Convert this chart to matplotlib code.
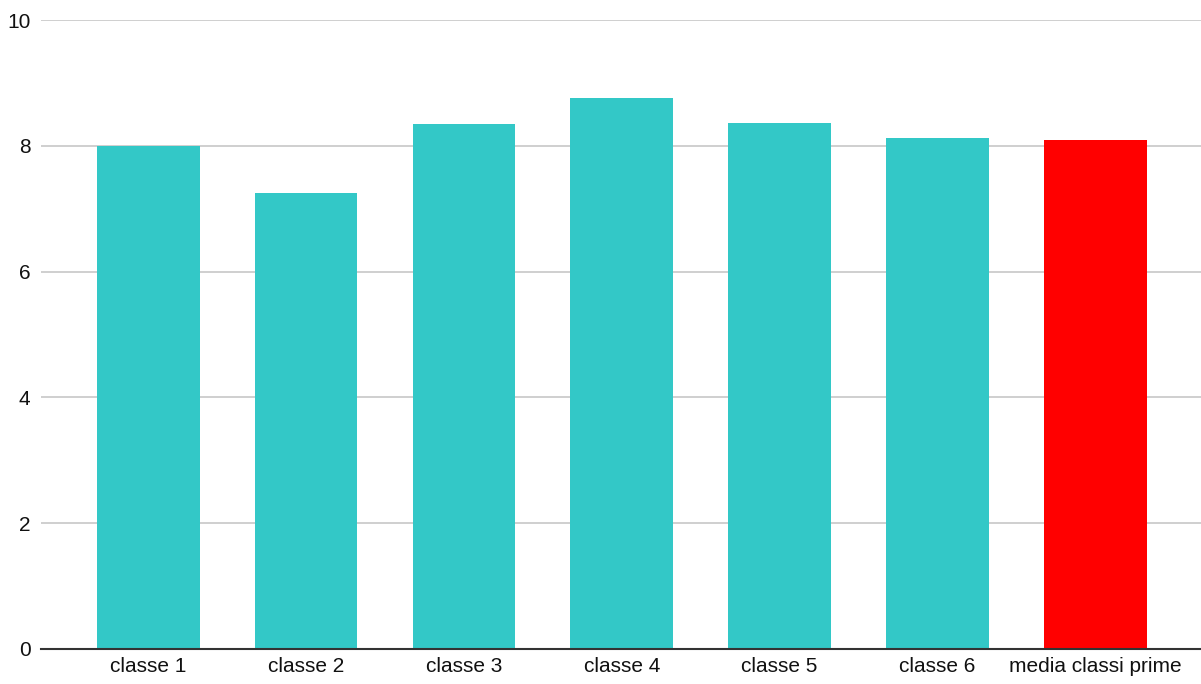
import matplotlib
matplotlib.use("Agg")
import matplotlib.pyplot as plt

categories = ["classe 1", "classe 2", "classe 3", "classe 4", "classe 5", "classe 6", "media classi prime"]
values = [8.0, 7.25, 8.35, 8.77, 8.37, 8.12, 8.09]
colors = ["#33c8c7"] * 6 + ["#ff0000"]
yticks = [0, 2, 4, 6, 8, 10]

plt.rcParams['font.family'] = ['Liberation Sans', 'DejaVu Sans']

fig = plt.figure(figsize=(12.01, 6.84), dpi=100)
ax = fig.add_axes([41 / 1201, 35.3 / 684, 1 - 41 / 1201, (648.7 - 20.3) / 684])

x = range(len(categories))
ax.bar(x, values, width=0.65, color=colors, zorder=3)

ax.set_ylim(0, 10)
ax.set_xlim(-0.68, 6.67)
ax.set_yticks(yticks)
ax.set_xticks(list(x))
ax.set_xticklabels(categories)
ax.grid(axis='y', color='#cccccc', linewidth=1.3, zorder=0)
ax.tick_params(axis='y', length=0, pad=7.5, labelsize=15, labelcolor='#111111')
ax.tick_params(axis='x', length=0, pad=6, labelsize=15, labelcolor='#111111')

for s in ['top', 'right', 'left']:
    ax.spines[s].set_visible(False)
ax.spines['bottom'].set_color('#333333')
ax.spines['bottom'].set_linewidth(1.5)
ax.spines['bottom'].set_zorder(4)

fig.savefig("out.png", dpi=100)
